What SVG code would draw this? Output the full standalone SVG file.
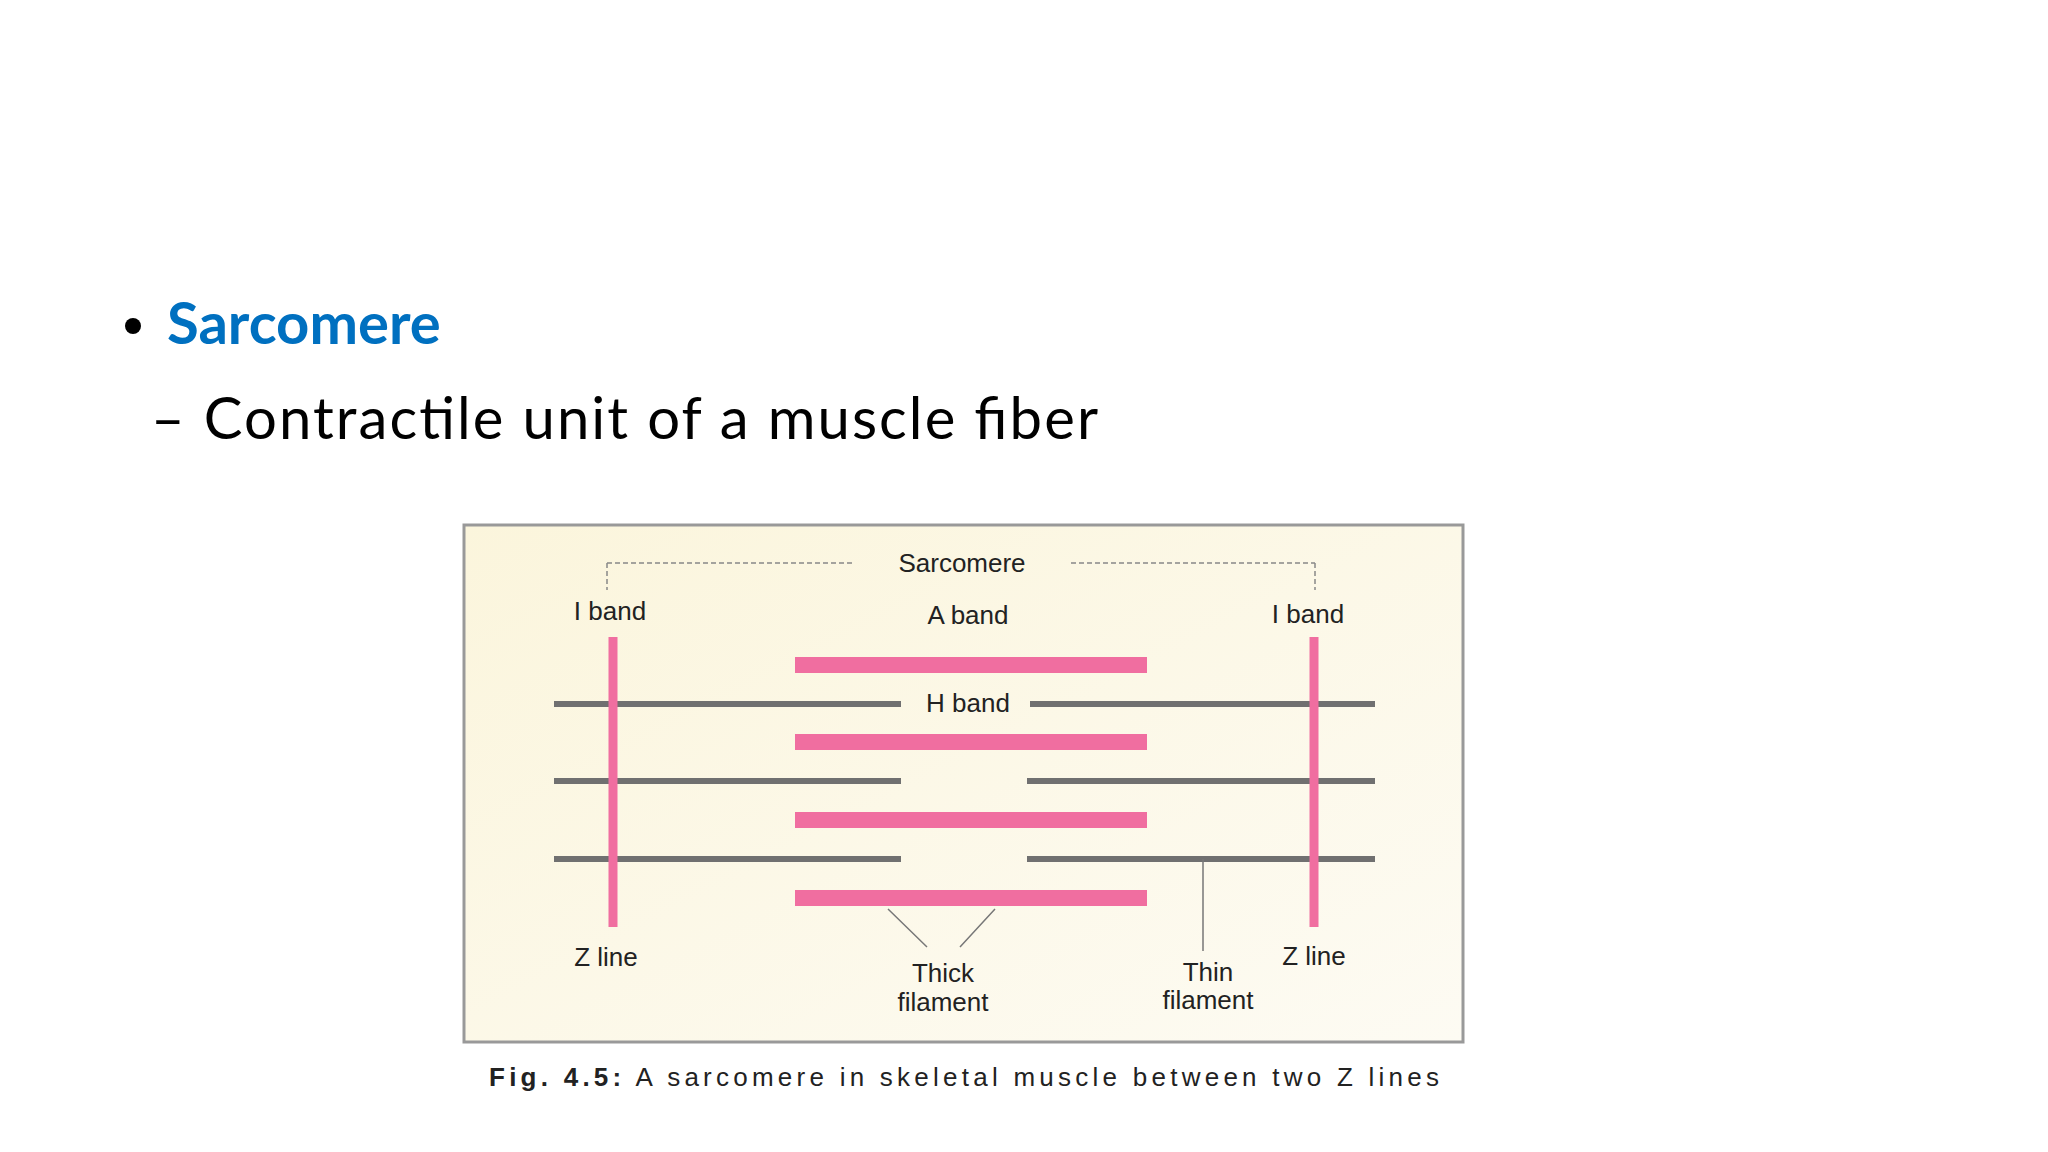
<svg xmlns="http://www.w3.org/2000/svg" width="2048" height="1152" viewBox="0 0 2048 1152">
<defs>
<linearGradient id="bg" x1="0" y1="0" x2="1" y2="1"><stop offset="0" stop-color="#FBF5DC"/><stop offset="1" stop-color="#FDFBF3"/></linearGradient>
<style>
.t{font-family:"Liberation Sans",Arial,sans-serif;font-size:26px;fill:#222;text-anchor:middle}
.z{stroke:#F06EA0;stroke-width:9}
.k{fill:#F06EA0}
.g{stroke:#707070;stroke-width:6}
.p{stroke:#777;stroke-width:1.5;fill:none}
.d{stroke:#888;stroke-width:1.5;stroke-dasharray:5 3;fill:none}
</style>
</defs>
<rect width="2048" height="1152" fill="#fff"/>
<g id="title">
<circle cx="133" cy="326" r="8" fill="#000"/>
<text x="167" y="344" font-family="Lato,'Open Sans',sans-serif" font-weight="bold" font-size="58" fill="#0070C0">Sarcomere</text>
<text x="151" y="439" font-family="Lato,'Open Sans',sans-serif" font-size="58" fill="#000" textLength="947">– Contractile unit of a muscle fiber</text>
</g>
<g id="figure">
<rect x="464" y="525" width="999" height="517" fill="url(#bg)" stroke="#999" stroke-width="3"/>
<path class="d" d="M607 563H855M1071 563H1315M607 563V590M1315 563V590"/>
<text class="t" x="962" y="572">Sarcomere</text>
<text class="t" x="610" y="620">I band</text>
<text class="t" x="968" y="624">A band</text>
<text class="t" x="1308" y="623">I band</text>
</g>
<g id="connectors">
<line class="g" x1="554" y1="704" x2="901" y2="704"/><line class="g" x1="1030" y1="704" x2="1375" y2="704"/>
<line class="g" x1="554" y1="781" x2="901" y2="781"/><line class="g" x1="1027" y1="781" x2="1375" y2="781"/>
<line class="g" x1="554" y1="859" x2="901" y2="859"/><line class="g" x1="1027" y1="859" x2="1375" y2="859"/>
<line class="z" x1="613" y1="637" x2="613" y2="927"/>
<line class="z" x1="1314" y1="637" x2="1314" y2="927"/>
<rect class="k" x="795" y="657" width="352" height="16"/>
<rect class="k" x="795" y="734" width="352" height="16"/>
<rect class="k" x="795" y="812" width="352" height="16"/>
<rect class="k" x="795" y="890" width="352" height="16"/>
<path class="p" d="M888 909L927 947M995 909L960 947M1203 859V951"/>
</g>
<g id="labels">
<text class="t" x="968" y="712">H band</text>
<text class="t" x="606" y="966">Z line</text>
<text class="t" x="943" y="982">Thick</text>
<text class="t" x="943" y="1011">filament</text>
<text class="t" x="1208" y="981">Thin</text>
<text class="t" x="1208" y="1009">filament</text>
<text class="t" x="1314" y="965">Z line</text>
<text class="t" x="964" y="1086" textLength="950"><tspan font-weight="bold">Fig. 4.5:</tspan> A sarcomere in skeletal muscle between two Z lines</text>
</g>
</svg>
